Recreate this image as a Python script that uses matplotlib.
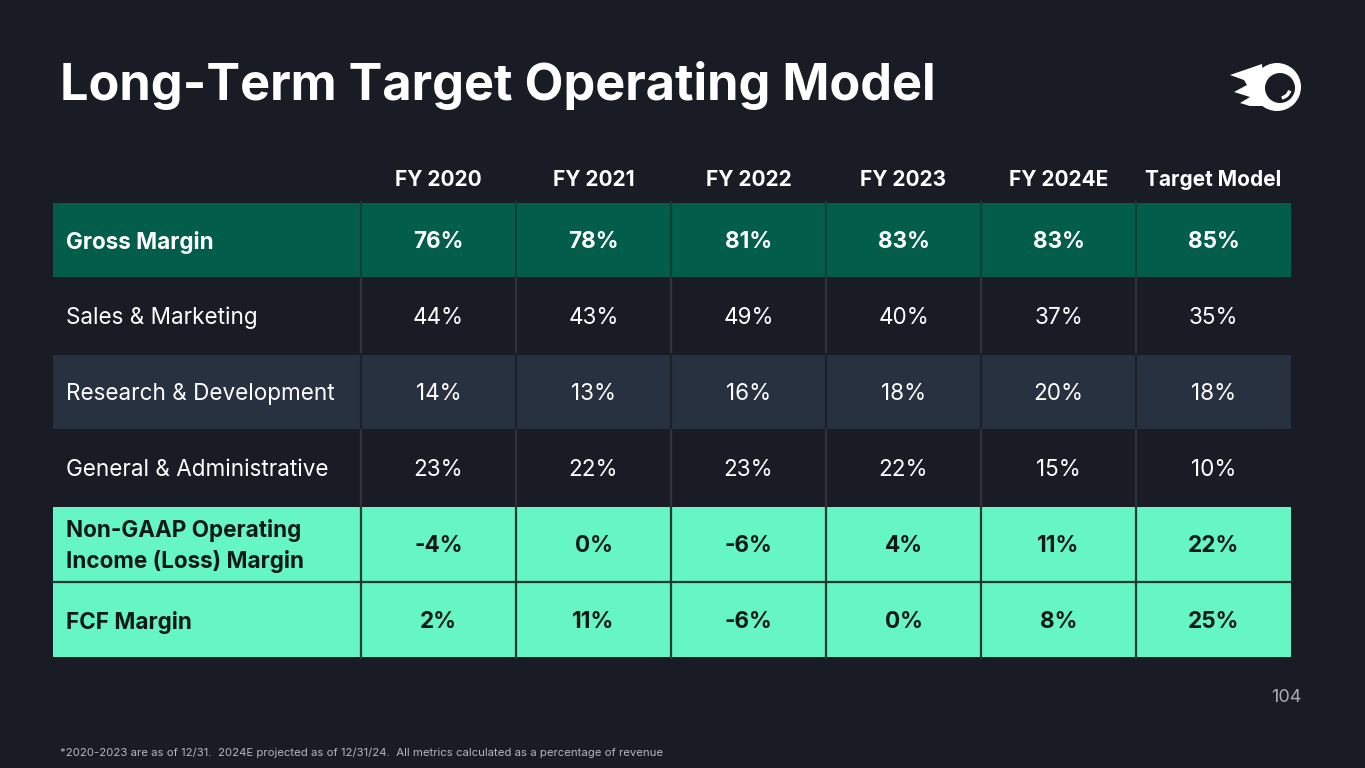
import matplotlib.pyplot as plt
from matplotlib.patches import Rectangle, Circle, Polygon, Arc

plt.rcParams['font.family'] = ['Inter', 'DejaVu Sans']

columns = ['FY 2020', 'FY 2021', 'FY 2022', 'FY 2023', 'FY 2024E', 'Target Model']
row_labels = ['Gross Margin', 'Sales & Marketing', 'Research & Development',
              'General & Administrative', 'Non-GAAP Operating\nIncome (Loss) Margin', 'FCF Margin']
gross_margin = [76, 78, 81, 83, 83, 85]
sales_marketing = [44, 43, 49, 40, 37, 35]
research_dev = [14, 13, 16, 18, 20, 18]
general_admin = [23, 22, 23, 22, 15, 10]
op_margin = [-4, 0, -6, 4, 11, 22]
fcf_margin = [2, 11, -6, 0, 8, 25]
values = [gross_margin, sales_marketing, research_dev, general_admin, op_margin, fcf_margin]

BG = '#1a1c25'
row_style = [
    # fill, divider, text color, bold
    ('#025e4a', '#0f3f35', '#ffffff', True),
    (BG, '#30333e', '#ffffff', False),
    ('#283140', '#1c2029', '#ffffff', False),
    (BG, '#30333e', '#ffffff', False),
    ('#66f5c5', '#1b3a30', '#0f1a17', True),
    ('#66f5c5', '#1b3a30', '#0f1a17', True),
]

W, H = 1365, 768
fig = plt.figure(figsize=(W / 100, H / 100), dpi=100, facecolor=BG)
ax = fig.add_axes([0, 0, 1, 1])
ax.set_xlim(0, W)
ax.set_ylim(H, 0)
ax.axis('off')

# title
ax.text(60, 85, 'Long-Term Target Operating Model', color='white', fontsize=36.3,
        fontweight='bold', va='center', ha='left')

# table geometry
x0, label_w, col_w = 53, 308, 155
y0, row_h = 202, 76
col_left = [x0 + label_w + i * col_w for i in range(len(columns))]
x1 = col_left[-1] + col_w

for i, name in enumerate(columns):
    ax.text(col_left[i] + col_w / 2, 180, name, color='white', fontsize=15,
            fontweight='bold', ha='center', va='center')

for r, (label, vals) in enumerate(zip(row_labels, values)):
    fill, edge, tc, bold = row_style[r]
    top = y0 + r * row_h
    fw = 'bold' if bold else 'normal'
    ax.add_patch(Rectangle((x0, top + 0.5), x1 - x0, row_h - 1.5, facecolor=fill,
                           edgecolor='none'))
    for xl in col_left:
        ax.plot([xl, xl], [top, top + row_h], color=edge, lw=1.6)
    ax.text(x0 + 13, top + row_h / 2 + 2, label, color=tc, fontsize=16.2, fontweight=fw,
            ha='left', va='center', linespacing=1.4)
    for c, v in enumerate(vals):
        ax.text(col_left[c] + col_w / 2, top + row_h / 2 + 2, f'{v}%', color=tc,
                fontsize=16.2, fontweight=fw, ha='center', va='center')

# separator between the two highlighted rows
sep = y0 + 5 * row_h
ax.plot([x0, x1], [sep, sep], color=row_style[5][1], lw=1.6)

# page number and footnote
ax.text(1302, 697, '104', color='#a9abb2', fontsize=13, ha='right', va='center')
ax.text(60, 753, '*2020-2023 are as of 12/31.  2024E projected as of 12/31/24.  '
        'All metrics calculated as a percentage of revenue',
        color='#b5b7bd', fontsize=8.2, ha='left', va='center')

# logo
cx, cy = 1277, 87
ax.add_patch(Polygon([(1230, 75), (1262, 64), (1266, 106), (1250, 106),
                      (1240, 103), (1250, 97), (1234, 92), (1247, 85), (1244, 80)],
                     closed=True, facecolor='white', edgecolor='none'))
ax.add_patch(Circle((cx, cy), 24, facecolor='white', edgecolor='none'))
ax.add_patch(Circle((cx + 3, cy + 1), 15, facecolor=BG, edgecolor='none'))
ax.add_patch(Arc((cx + 3, cy + 1), 20, 20, theta1=15, theta2=80, color='white', lw=2.5))

fig.savefig('out.png', dpi=100, facecolor=BG)
